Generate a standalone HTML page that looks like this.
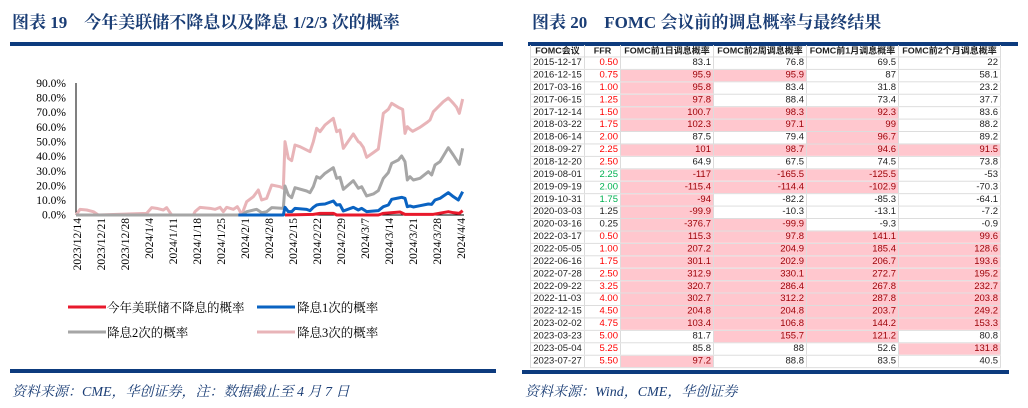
<!DOCTYPE html>
<html><head><meta charset="utf-8"><style>
body{margin:0;width:1028px;height:408px;background:#fff;position:relative;overflow:hidden;font-family:"Liberation Serif","Noto Serif CJK SC",serif}
.title{position:absolute;top:8px;font-size:17px;font-weight:bold;color:#1a3d75;white-space:nowrap}
.rule{position:absolute;height:4px;background:#0d3b7e}
.src{position:absolute;top:381px;font-size:14px;font-style:italic;color:#1a3d75;white-space:nowrap}
.tbl{position:absolute;left:530px;top:45px;width:470px;font-family:"Liberation Sans","Noto Sans CJK SC",sans-serif;font-size:9.5px;border-left:1px solid #dcdcdc;transform:scaleY(0.956);transform-origin:0 0}
.row{display:flex;height:13px;min-height:13px;max-height:13px;overflow:hidden;border-bottom:1px solid #dcdcdc;box-sizing:border-box}
.row div{height:12px;border-right:1px solid #dcdcdc;box-sizing:border-box;padding:0 2px;text-align:right;line-height:12px;white-space:nowrap;overflow:hidden;color:#222}
.row div:nth-child(1){width:54px;text-align:center}
.row div:nth-child(2){width:36px}
.row div:nth-child(3){width:93px}
.row div:nth-child(4){width:93px}
.row div:nth-child(5){width:92px}
.row div:nth-child(6){width:102px}
.row.h div{font-weight:bold;text-align:center;font-size:9px}
.p{background:#ffc7ce;color:#9c0006!important}
.r{color:#f00!important}.g{color:#00b050!important}
</style></head><body>
<div class="title" style="left:12px">图表 19　今年美联储不降息以及降息 1/2/3 次的概率</div>
<div class="title" style="left:532px">图表 20　FOMC 会议前的调息概率与最终结果</div>
<div class="rule" style="left:10px;width:493px;top:42px"></div>
<div class="rule" style="left:528px;width:490px;top:42px"></div>
<div class="rule" style="left:10px;width:486px;top:369px"></div>
<div class="src" style="left:12px">资料来源：CME，华创证券，注：数据截止至 4 月 7 日</div>
<div class="src" style="left:525px">资料来源：Wind，CME，华创证券</div>

<svg width="510" height="360" style="position:absolute;left:0;top:0" font-family="Liberation Serif, serif" font-size="11.5">
<g fill="#000" text-anchor="end">
<text x="66" y="87">90.0%</text><text x="66" y="101.6">80.0%</text><text x="66" y="116.2">70.0%</text><text x="66" y="130.9">60.0%</text><text x="66" y="145.5">50.0%</text><text x="66" y="160.1">40.0%</text><text x="66" y="174.8">30.0%</text><text x="66" y="189.4">20.0%</text><text x="66" y="204">10.0%</text><text x="66" y="218.7">0.0%</text>
</g>
<line x1="76" y1="83" x2="76" y2="215" stroke="#000" stroke-width="1"/>
<line x1="76" y1="215" x2="464" y2="215" stroke="#000" stroke-width="1"/>
<g fill="#000" text-anchor="end" font-size="11.5">
<text transform="translate(81,218) rotate(-90)">2023/12/14</text>
<text transform="translate(105,218) rotate(-90)">2023/12/21</text>
<text transform="translate(129,218) rotate(-90)">2023/12/28</text>
<text transform="translate(153,218) rotate(-90)">2024/1/4</text>
<text transform="translate(177,218) rotate(-90)">2024/1/11</text>
<text transform="translate(201,218) rotate(-90)">2024/1/18</text>
<text transform="translate(225,218) rotate(-90)">2024/1/25</text>
<text transform="translate(249,218) rotate(-90)">2024/2/1</text>
<text transform="translate(273,218) rotate(-90)">2024/2/8</text>
<text transform="translate(297,218) rotate(-90)">2024/2/15</text>
<text transform="translate(321,218) rotate(-90)">2024/2/22</text>
<text transform="translate(345,218) rotate(-90)">2024/2/29</text>
<text transform="translate(369,218) rotate(-90)">2024/3/7</text>
<text transform="translate(393,218) rotate(-90)">2024/3/14</text>
<text transform="translate(417,218) rotate(-90)">2024/3/21</text>
<text transform="translate(441,218) rotate(-90)">2024/3/28</text>
<text transform="translate(465,218) rotate(-90)">2024/4/4</text>
</g>
<g transform="translate(0,70) scale(0.33333)" fill="none" stroke-width="9" stroke-linejoin="round">
<polyline stroke="#e8b4b8" points="228,435 240,418 260,420 280,425 295,435 440,430 455,413 470,415 490,420 500,413 515,435 580,435 585,425 600,412 630,415 645,418 660,412 670,425 680,412 700,418 712,410 718,420 725,435 740,395 760,380 775,360 785,390 800,385 815,345 840,350 850,355 855,215 865,265 875,272 885,225 900,230 930,245 940,215 950,175 960,185 975,165 1000,145 1010,185 1020,180 1030,235 1060,192 1075,215 1080,218 1090,232 1100,262 1120,248 1135,237 1150,130 1165,118 1175,100 1195,112 1208,118 1215,190 1222,170 1230,178 1238,184 1260,172 1280,158 1290,150 1300,125 1315,110 1330,95 1345,84 1360,100 1370,112 1378,130 1388,87"/>
<polyline stroke="#a6a6a6" points="228,435 725,435 740,425 770,418 785,428 800,425 815,413 850,415 855,348 865,375 875,383 885,353 920,363 930,368 940,350 950,320 960,325 975,310 1000,293 1010,325 1020,322 1030,358 1060,332 1075,355 1085,350 1100,378 1120,372 1135,362 1150,325 1165,308 1175,280 1195,270 1205,258 1215,275 1222,330 1230,320 1240,330 1260,325 1285,305 1295,315 1305,285 1320,275 1345,233 1360,255 1378,283 1388,235"/>
<polyline stroke="#0a63c2" points="715,435 850,435 855,412 865,425 875,425 885,415 920,418 930,422 940,412 950,405 960,403 975,402 1000,393 1010,405 1020,404 1030,423 1060,412 1075,420 1085,415 1100,425 1135,422 1150,410 1165,405 1175,388 1195,384 1205,382 1215,385 1222,410 1230,408 1240,411 1260,407 1285,402 1295,403 1305,390 1320,385 1345,368 1360,380 1375,390 1388,365"/>
<polyline stroke="#e8192c" points="855,435 940,433 960,430 1000,430 1010,435 1135,435 1150,430 1200,426 1215,433 1300,433 1345,425 1360,428 1378,430 1388,422"/>
</g>
<g font-family="Liberation Serif, Noto Serif CJK SC, serif" font-size="12.5" fill="#000">
<line x1="68" y1="307" x2="106" y2="307" stroke="#e8192c" stroke-width="3"/><text x="107" y="312">今年美联储不降息的概率</text>
<line x1="257" y1="307" x2="295" y2="307" stroke="#0a63c2" stroke-width="3"/><text x="297" y="312">降息1次的概率</text>
<line x1="68" y1="332" x2="106" y2="332" stroke="#a6a6a6" stroke-width="3"/><text x="107" y="337">降息2次的概率</text>
<line x1="257" y1="332" x2="295" y2="332" stroke="#e8b4b8" stroke-width="3"/><text x="297" y="337">降息3次的概率</text>
</g>
</svg>

<div class="tbl">
<div class="row h"><div>FOMC会议</div><div>FFR</div><div>FOMC前1日调息概率</div><div>FOMC前2周调息概率</div><div>FOMC前1月调息概率</div><div>FOMC前2个月调息概率</div></div>
<div class="row"><div>2015-12-17</div><div class="r">0.50</div><div>83.1</div><div>76.8</div><div>69.5</div><div>22</div></div>
<div class="row"><div>2016-12-15</div><div class="r">0.75</div><div class="p">95.9</div><div class="p">95.9</div><div>87</div><div>58.1</div></div>
<div class="row"><div>2017-03-16</div><div class="r">1.00</div><div class="p">95.8</div><div>83.4</div><div>31.8</div><div>23.2</div></div>
<div class="row"><div>2017-06-15</div><div class="r">1.25</div><div class="p">97.8</div><div>88.4</div><div>73.4</div><div>37.7</div></div>
<div class="row"><div>2017-12-14</div><div class="r">1.50</div><div class="p">100.7</div><div class="p">98.3</div><div class="p">92.3</div><div>83.6</div></div>
<div class="row"><div>2018-03-22</div><div class="r">1.75</div><div class="p">102.3</div><div class="p">97.1</div><div class="p">99</div><div>88.2</div></div>
<div class="row"><div>2018-06-14</div><div class="r">2.00</div><div>87.5</div><div>79.4</div><div class="p">96.7</div><div>89.2</div></div>
<div class="row"><div>2018-09-27</div><div class="r">2.25</div><div class="p">101</div><div class="p">98.7</div><div class="p">94.6</div><div class="p">91.5</div></div>
<div class="row"><div>2018-12-20</div><div class="r">2.50</div><div>64.9</div><div>67.5</div><div>74.5</div><div>73.8</div></div>
<div class="row"><div>2019-08-01</div><div class="g">2.25</div><div class="p">-117</div><div class="p">-165.5</div><div class="p">-125.5</div><div>-53</div></div>
<div class="row"><div>2019-09-19</div><div class="g">2.00</div><div class="p">-115.4</div><div class="p">-114.4</div><div class="p">-102.9</div><div>-70.3</div></div>
<div class="row"><div>2019-10-31</div><div class="g">1.75</div><div class="p">-94</div><div>-82.2</div><div>-85.3</div><div>-64.1</div></div>
<div class="row"><div>2020-03-03</div><div>1.25</div><div class="p">-99.9</div><div>-10.3</div><div>-13.1</div><div>-7.2</div></div>
<div class="row"><div>2020-03-16</div><div>0.25</div><div class="p">-376.7</div><div class="p">-99.9</div><div>-9.3</div><div>-0.9</div></div>
<div class="row"><div>2022-03-17</div><div class="r">0.50</div><div class="p">115.3</div><div class="p">97.8</div><div class="p">141.1</div><div class="p">99.6</div></div>
<div class="row"><div>2022-05-05</div><div class="r">1.00</div><div class="p">207.2</div><div class="p">204.9</div><div class="p">185.4</div><div class="p">128.6</div></div>
<div class="row"><div>2022-06-16</div><div class="r">1.75</div><div class="p">301.1</div><div class="p">202.9</div><div class="p">206.7</div><div class="p">193.6</div></div>
<div class="row"><div>2022-07-28</div><div class="r">2.50</div><div class="p">312.9</div><div class="p">330.1</div><div class="p">272.7</div><div class="p">195.2</div></div>
<div class="row"><div>2022-09-22</div><div class="r">3.25</div><div class="p">320.7</div><div class="p">286.4</div><div class="p">267.8</div><div class="p">232.7</div></div>
<div class="row"><div>2022-11-03</div><div class="r">4.00</div><div class="p">302.7</div><div class="p">312.2</div><div class="p">287.8</div><div class="p">203.8</div></div>
<div class="row"><div>2022-12-15</div><div class="r">4.50</div><div class="p">204.8</div><div class="p">204.8</div><div class="p">203.7</div><div class="p">249.2</div></div>
<div class="row"><div>2023-02-02</div><div class="r">4.75</div><div class="p">103.4</div><div class="p">106.8</div><div class="p">144.2</div><div class="p">153.3</div></div>
<div class="row"><div>2023-03-23</div><div class="r">5.00</div><div>81.7</div><div class="p">155.7</div><div class="p">121.2</div><div>80.8</div></div>
<div class="row"><div>2023-05-04</div><div class="r">5.25</div><div>85.8</div><div>88</div><div>52.6</div><div class="p">131.8</div></div>
<div class="row"><div>2023-07-27</div><div class="r">5.50</div><div class="p">97.2</div><div>88.8</div><div>83.5</div><div>40.5</div></div>
</div>
<div class="rule" style="left:522px;width:487px;top:370px"></div>
</body></html>
